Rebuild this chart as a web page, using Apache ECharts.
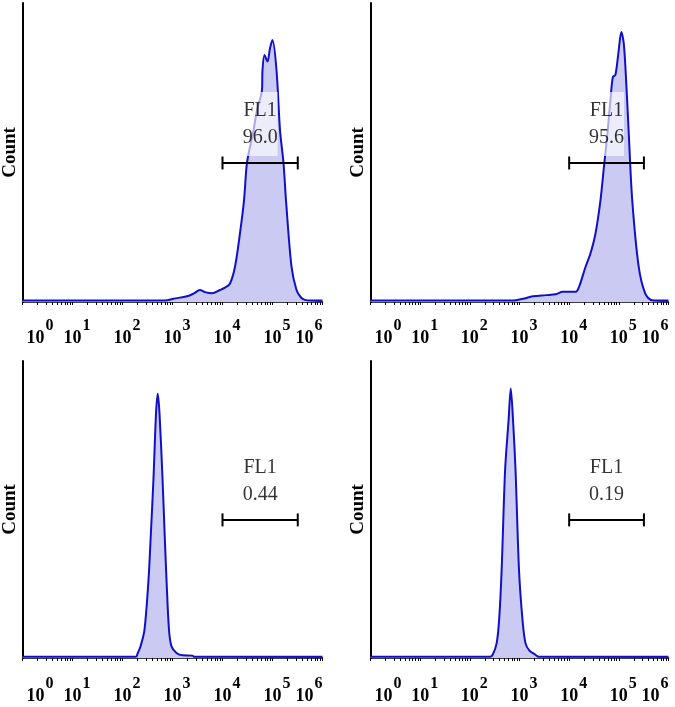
<!DOCTYPE html>
<html><head><meta charset="utf-8">
<script src="https://cdn.jsdelivr.net/npm/echarts@6/dist/echarts.min.js"></script>
<style>html,body{margin:0;padding:0;background:#fff}#c{width:675px;height:707px}</style>
</head><body><div id="c"></div>
<script>
// ---- data (FL1 intensity, linear units; count as % of axis max) ----
const decadeLabels = [1, 10, 100, 1000, 10000, 100000, 1000000];

const tlFL    = [1, 708, 1047, 1950, 2630, 3548, 4467, 6166, 8913, 11220, 14125, 17783, 22387, 26915, 30200, 33113, 40738, 48978, 61660, 63096, 69183, 79433, 89125, 100000, 120226, 141254, 165959, 186209, 239883, 301995, 371535, 446684, 562341, 1000000];
const tlCount = [0.5, 0.5, 1.1, 1.9, 2.8, 4.0, 3.3, 2.9, 4.0, 4.8, 6.2, 11.8, 23, 34, 45.2, 49.5, 56.5, 64.2, 70.9, 77.6, 82.6, 80.4, 84.9, 87.6, 77.6, 57.5, 46.5, 34, 11.8, 4, 1.5, 0.7, 0.5, 0.5];

const trFL    = [1, 741, 1175, 1862, 3388, 5370, 7413, 13490, 15849, 21380, 26915, 33884, 42658, 50119, 58884, 67608, 75858, 85114, 97724, 112202, 125893, 141254, 158489, 186209, 251189, 338844, 467735, 1000000];
const trCount = [0.5, 0.5, 1.1, 1.9, 2.3, 2.6, 3.4, 3.4, 5.1, 11.8, 16.3, 22.9, 34, 45.2, 56.3, 67.5, 75.3, 75.9, 83.1, 90.3, 86.4, 73.1, 56.3, 34, 11.8, 2.9, 0.6, 0.5];

const blFL    = [1, 186, 200, 229, 275, 331, 372, 417, 468, 507, 550, 631, 692, 759, 851, 955, 1202, 1585, 2512, 2692, 1000000];
const blCount = [0.4, 0.4, 1.5, 3.9, 9.5, 26.3, 43, 60.6, 82.3, 89, 82.3, 60.6, 43, 26.3, 9.5, 3.9, 1.7, 0.9, 0.8, 0.4, 0.4];

const brFL    = [1, 251, 288, 347, 389, 437, 513, 603, 667, 741, 832, 977, 1148, 1318, 1585, 2089, 2455, 1000000];
const brCount = [0.4, 0.4, 1.1, 5.0, 12.9, 29.7, 63.3, 80.1, 90.7, 80.1, 63.3, 29.7, 12.9, 5.0, 2.5, 1.1, 0.4, 0.4];

const gateName  = 'FL1';
const gateLow   = 10000;
const gateHigh  = 320000;
const gateLevel = 46.5;
const gatePct   = ['96.0', '95.6', '0.44', '0.19'];
const yName     = 'Count';

// ---- layout ----
const panels = [
  { fl: tlFL, cnt: tlCount, grid: { left: 22.5, top: 3,   width: 300, height: 299 }, margin: 16 },
  { fl: trFL, cnt: trCount, grid: { left: 370.5, top: 3,  width: 298, height: 299 }, margin: 16 },
  { fl: blFL, cnt: blCount, grid: { left: 22.5, top: 361, width: 300, height: 297 }, margin: 18 },
  { fl: brFL, cnt: brCount, grid: { left: 370.5, top: 361,width: 298, height: 297 }, margin: 18 }
];

const tickValues = [];
for (let k = 0; k < 6; k++) for (let m = 1; m < 10; m++) tickValues.push(m * Math.pow(10, k));
tickValues.push(1000000);

const SERIF = "Liberation Serif";
const LINE = '#1010c8', FILL = '#cacaf3';

const grid = [], xAxis = [], yAxis = [], series = [];
panels.forEach((p, i) => {
  grid.push(Object.assign({ containLabel: false, outerBoundsMode: 'none' }, p.grid));
  xAxis.push({
    type: 'log', logBase: 10, gridIndex: i, min: 1, max: 1000000,
    splitLine: { show: false },
    axisLine: { show: true, lineStyle: { color: '#000', width: 1.5 } },
    axisTick: { show: true, inside: false, length: 3, customValues: tickValues, lineStyle: { color: '#000', width: 1 } },
    minorTick: { show: false },
    axisLabel: {
      show: true, customValues: decadeLabels, margin: p.margin,
      fontFamily: SERIF, fontWeight: 'bold', fontSize: 18, color: '#000',
      alignMinLabel: 'left', alignMaxLabel: 'right', hideOverlap: false,
      formatter: function (v) {
        const e = Math.round(Math.log10(v));
        if (e === 0) return '{b0|10}{s|' + e + '}';
        if (e === 6) return '{b6|10}{s|' + e + '}';
        return '{b|10}{s|' + e + '}';
      },
      rich: {
        b:  { fontFamily: SERIF, fontWeight: 'bold', fontSize: 18, color: '#000', verticalAlign: 'bottom', padding: [0, 0, 0, 9] },
        b0: { fontFamily: SERIF, fontWeight: 'bold', fontSize: 18, color: '#000', verticalAlign: 'bottom', padding: [0, 0, 0, 4] },
        b6: { fontFamily: SERIF, fontWeight: 'bold', fontSize: 18, color: '#000', verticalAlign: 'bottom', padding: [0, 0, 0, 0] },
        s:  { fontFamily: SERIF, fontWeight: 'bold', fontSize: 16, color: '#000', verticalAlign: 'bottom', padding: [0, 0, 13, 1] }
      }
    }
  });
  yAxis.push({
    type: 'value', gridIndex: i, min: 0, max: 100,
    name: yName, nameLocation: 'middle', nameGap: 3,
    nameTextStyle: { fontFamily: SERIF, fontWeight: 'bold', fontSize: 19, color: '#000' },
    splitLine: { show: false },
    axisLine: { show: true, lineStyle: { color: '#000', width: 2 } },
    axisTick: { show: false },
    axisLabel: { show: false }
  });
  series.push({
    type: 'line', xAxisIndex: i, yAxisIndex: i, z: 2,
    data: p.fl.map((x, j) => [x, p.cnt[j]]),
    smooth: 0.3, symbol: 'none',
    lineStyle: { color: LINE, width: 2 },
    areaStyle: { color: FILL, opacity: 1 },
    animation: false
  });
  series.push({
    type: 'line', xAxisIndex: i, yAxisIndex: i, z: 4,
    data: [[gateLow, gateLevel], [gateHigh, gateLevel]],
    symbol: 'rect', symbolSize: [2, 13], showAllSymbol: true,
    itemStyle: { color: '#000' },
    lineStyle: { color: '#000', width: 2 },
    animation: false, silent: true
  });
  series.push({
    type: 'scatter', xAxisIndex: i, yAxisIndex: i, z: 5,
    data: [[Math.sqrt(gateLow * gateHigh), gateLevel]],
    symbolSize: 0,
    label: {
      show: true, position: 'top', distance: 7,
      formatter: gateName + '\n' + gatePct[i],
      fontFamily: SERIF, fontSize: 20, color: '#000', lineHeight: 27,
      backgroundColor: 'rgba(255,255,255,0.8)', padding: [5, 0, 5, 0]
    },
    animation: false, silent: true
  });
});

const chart = echarts.init(document.getElementById('c'), null, { renderer: 'canvas' });
chart.setOption({ animation: false, backgroundColor: '#fff', grid, xAxis, yAxis, series });
</script></body></html>
